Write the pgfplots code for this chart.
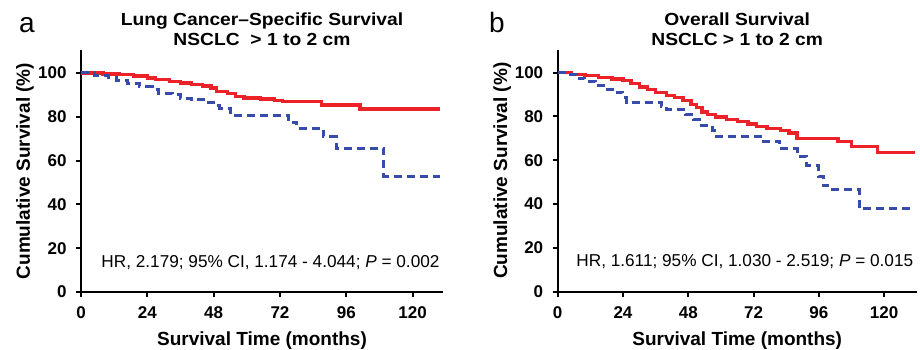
\documentclass[border=0pt]{standalone}
\usepackage{pgfplots}
\pgfplotsset{compat=1.18}
\usepackage{fontspec}
\setmainfont{Liberation Sans}
\definecolor{kmred}{RGB}{235,35,40}
\definecolor{kmblue}{RGB}{55,75,170}

\pgfplotsset{
  km/.style={
    scale only axis, height=242pt,
    ymin=0, ymax=110.5,
    axis x line*=bottom, axis y line*=left,
    axis line style={line width=2pt, -},
    xtick={0,24,48,72,96,120}, ytick={0,20,40,60,80,100},
    tick align=outside, major tick length=5pt,
    tick style={line width=2pt, black},
    tick label style={font=\fontsize{17}{20}\selectfont\bfseries},
    xticklabel style={yshift=-6pt},
    yticklabel style={xshift=-6pt},
    /pgf/number format/assume math mode=true,
    xlabel={Survival Time (months)},
    ylabel={Cumulative Survival (\%)},
    xlabel style={font=\fontsize{19}{22}\selectfont\bfseries,
      at={(axis description cs:0.5,-0.2231)}, anchor=base},
    ylabel style={font=\fontsize{19}{22}\selectfont\bfseries,
      at={(axis description cs:-0.1409,0.5)}, anchor=base, rotate=0},
    clip=false,
  },
  redkm/.style={const plot, color=kmred, line width=3.4pt, line join=miter},
  bluekm/.style={const plot, color=kmblue, line width=3pt, dash pattern=on 8pt off 5pt},
}
\tikzset{ttl/.style={anchor=base, xscale=1.1, font=\fontsize{17.5}{21}\selectfont\bfseries}}

\begin{document}
\begin{tikzpicture}
\path[use as bounding box] (-81pt,-58pt) rectangle (839pt,292pt);

% ---------------- Panel a ----------------
\begin{axis}[km, at={(0pt,0pt)}, anchor=south west, width=362pt, xmin=0, xmax=131]
\addplot[redkm] coordinates {
(0,100) (8,99.6) (14,99.2) (19,98.6) (24,97.8) (27,96.9) (32,96.2) (36,95.4)
(40,94.8) (44,94.0) (47,93.2) (49,91.5) (53,90.5) (56,89.4) (59,88.6) (65,88.2)
(70,87.5) (73,86.9) (87,85.4) (101,83.6) (130,83.6)};
\addplot[bluekm] coordinates {
(0,100) (5,98.8) (10,97.8) (13,96.5) (17,95.0) (21,93.8) (26,92.5) (28,90.8)
(33,90.3) (36,88.4) (40,87.8) (45,86.5) (48,85.0) (50,83.8) (54,80.8) (75,77.5)
(78,74.7) (87.6,70.9) (92.4,65.6) (109.5,52.8) (130,52.8)};
\node[anchor=base east, font=\fontsize{17.2}{20}\selectfont] at (axis cs:131,11)
  {HR, 2.179; 95\% CI, 1.174 - 4.044; \textit{P} = 0.002};
\node[ttl] at ([yshift=24pt]rel axis cs:0.5,1) {Lung Cancer–Specific Survival};
\node[ttl] at ([yshift=4.5pt]rel axis cs:0.5,1) {NSCLC \ > 1 to 2 cm};
\node[anchor=base, font=\fontsize{28}{32}\selectfont] at ([xshift=-54pt,yshift=17pt]rel axis cs:0,1) {a};
\end{axis}

% ---------------- Panel b ----------------
\begin{axis}[km, at={(476.7pt,0.3pt)}, anchor=south west, width=359pt, xmin=0, xmax=132]
\addplot[redkm] coordinates {
(0,100) (5,99.3) (10,98.6) (15,97.8) (20,97.2) (24,96.5) (27,95.0) (30,93.5)
(33,92.3) (36,91.0) (40,89.6) (43,88.8) (46,87.3) (49,85.5) (51,84.0) (53,82.0)
(55,80.8) (58,79.8) (62,78.5) (66,77.6) (70,76.6) (73,75.4) (77,74.4) (82,73.6)
(85,72.4) (88,70.0) (103,68.7) (108,66.4) (117.5,63.6) (131.5,63.6)};
\addplot[bluekm] coordinates {
(0,100) (4,99.2) (7,97.5) (10,96.0) (14,94.0) (17,92.5) (21,91.0) (24,88.8)
(25.3,86.3) (38,84.7) (40,83.2) (47,80.9) (50,78.6) (52,75.9) (57,73.7) (58.5,71.0)
(75.5,68.7) (81.7,65.2) (88,61.8) (91.5,57.5) (96,52.5) (97.6,48.3) (101,46.6)
(111,37.8) (131.5,37.8)};
\node[anchor=base east, font=\fontsize{17.2}{20}\selectfont] at (axis cs:132,11.4)
  {HR, 1.611; 95\% CI, 1.030 - 2.519; \textit{P} = 0.015};
\node[ttl] at ([yshift=24pt]rel axis cs:0.5,1) {Overall Survival};
\node[ttl] at ([yshift=4.5pt]rel axis cs:0.5,1) {NSCLC > 1 to 2 cm};
\node[anchor=base, font=\fontsize{28}{32}\selectfont] at ([xshift=-60.7pt,yshift=17pt]rel axis cs:0,1) {b};
\end{axis}
\end{tikzpicture}
\end{document}
